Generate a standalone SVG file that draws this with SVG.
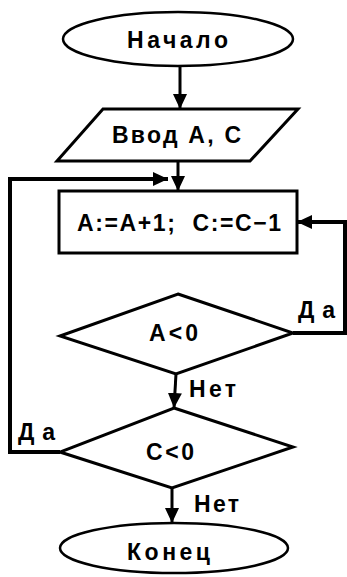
<svg xmlns="http://www.w3.org/2000/svg" width="347" height="577" viewBox="0 0 347 577">
<defs>
<style>
.shape{fill:#fff;stroke:#000;stroke-width:3}
.oval{fill:#fff;stroke:#000;stroke-width:2.5}
.line{fill:none;stroke:#000;stroke-width:3}
.loop{fill:none;stroke:#000;stroke-width:4}
text{font-family:"Liberation Sans",Arial,sans-serif;font-size:23px;font-weight:bold;fill:#000}
.c{text-anchor:middle}
</style>
<marker id="ah" markerUnits="userSpaceOnUse" markerWidth="16" markerHeight="14" refX="15" refY="7" orient="auto">
<path d="M0,0 L15,7 L0,14 Z" fill="#000"/>
</marker>
</defs>
<g id="connectors">
<line class="line" x1="180" y1="66" x2="180" y2="109" marker-end="url(#ah)"/>
<line class="line" x1="178" y1="161" x2="178" y2="191" marker-end="url(#ah)"/>
<polyline class="loop" points="60,452 10,452 10,179 168,179" marker-end="url(#ah)"/>
<polyline class="loop" points="293,333 345,333 345,222 297,222" marker-end="url(#ah)"/>
<line class="line" x1="176" y1="374" x2="174" y2="408" marker-end="url(#ah)"/>
<line class="line" x1="172" y1="488" x2="172" y2="523" marker-end="url(#ah)"/>
<text x="298" y="318" textLength="37" lengthAdjust="spacing">Да</text>
<text x="189" y="397" textLength="47" lengthAdjust="spacing">Нет</text>
<text x="18" y="440" textLength="37" lengthAdjust="spacing">Да</text>
<text x="194" y="512" textLength="45" lengthAdjust="spacing">Нет</text>
</g>
<g id="start">
<ellipse class="oval" cx="178" cy="39" rx="115" ry="27"/>
<text class="c" x="177.5" y="48" textLength="101" lengthAdjust="spacing">Начало</text>
</g>
<g id="input">
<polygon class="shape" points="103,109 298,109 250,161 57,161"/>
<text class="c" x="176.5" y="143" textLength="129" lengthAdjust="spacing">Ввод А, С</text>
</g>
<g id="process">
<rect class="shape" x="59" y="191" width="238" height="62"/>
<text class="c" x="179" y="231" textLength="204" lengthAdjust="spacing" xml:space="preserve">A:=A+1;  C:=C−1</text>
</g>
<g id="condA">
<polygon class="shape" points="178,294 293,333 176,374 60,336"/>
<text class="c" x="173.5" y="341" textLength="49" lengthAdjust="spacing">A&lt;0</text>
</g>
<g id="condC">
<polygon class="shape" points="174,408 293,447 172,488 60,452"/>
<text class="c" x="170" y="460" textLength="48" lengthAdjust="spacing">C&lt;0</text>
</g>
<g id="end">
<ellipse class="oval" cx="174" cy="548" rx="114" ry="25"/>
<text class="c" x="168.5" y="560" textLength="83" lengthAdjust="spacing">Конец</text>
</g>
</svg>
